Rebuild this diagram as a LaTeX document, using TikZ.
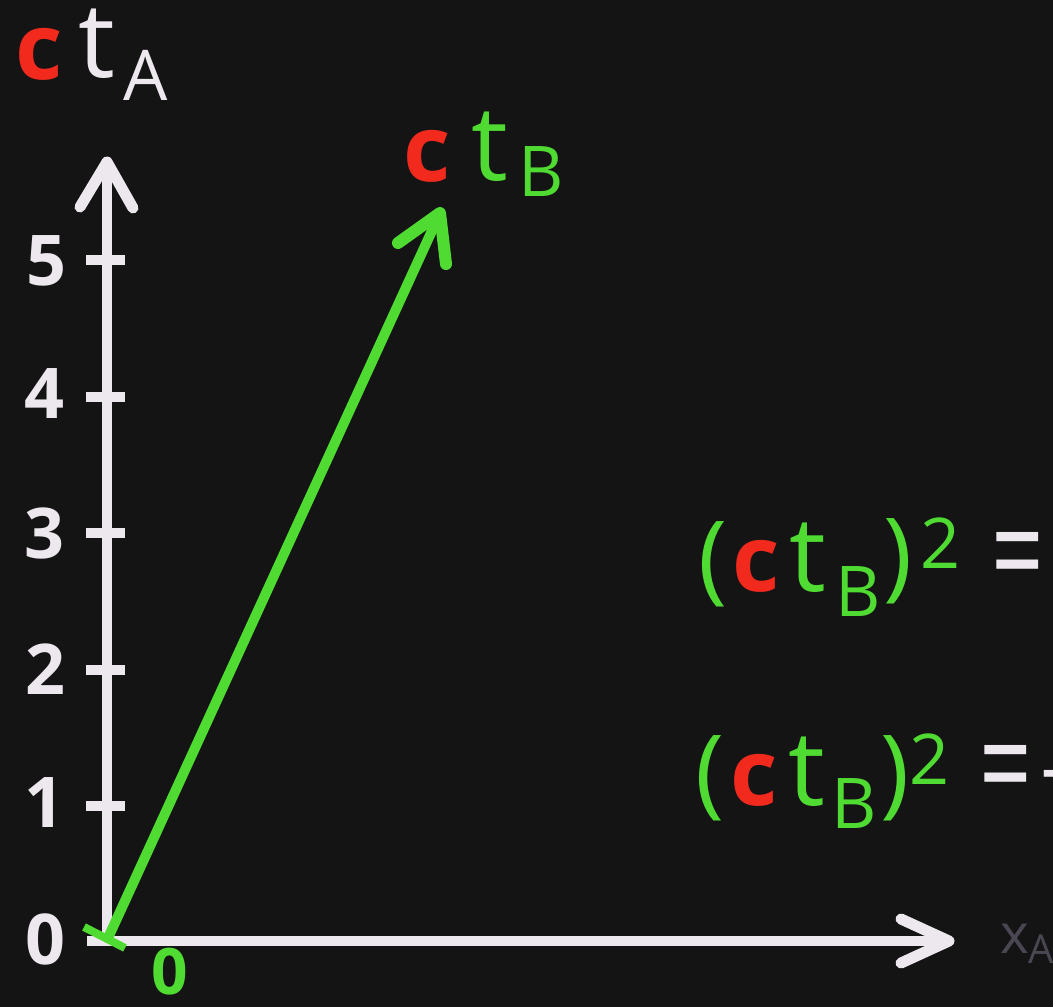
\documentclass[tikz,border=0pt]{standalone}
\usepackage{fontspec}
\setmainfont{Open Sans}
\usepackage{graphicx}
\definecolor{bg}{HTML}{141414}
\definecolor{chalk}{HTML}{EDE7EE}
\definecolor{cgreen}{HTML}{50DB33}
\definecolor{cred}{HTML}{F22A1E}
\definecolor{cgray}{HTML}{4A4652}
\tikzset{
  glyph/.style={inner sep=0pt, outer sep=0pt, anchor=center},
  bigc/.style={glyph, font=\bfseries\fontsize{92}{100}\selectfont},
  bigt/.style={glyph, font=\fontsize{104}{110}\selectfont},
  subl/.style={glyph, font=\fontsize{70}{72}\selectfont},
  paren/.style={glyph, font=\fontsize{98}{100}\selectfont, text=cgreen},
  sup/.style={glyph, font=\fontsize{70}{72}\selectfont, text=cgreen},
  eqs/.style={glyph, font=\fontsize{92}{96}\selectfont, text=chalk},
  num/.style={glyph, font=\bfseries\fontsize{70}{72}\selectfont, text=chalk},
  axisline/.style={draw=chalk, line width=10pt},
  axishead/.style={draw=chalk, line width=11pt, line cap=round, line join=round},
  vecline/.style={draw=cgreen, line width=10pt},
  vechead/.style={draw=cgreen, line width=12pt, line cap=round, line join=round},
}
\begin{document}
\begin{tikzpicture}[x=1pt,y=-1pt]
\fill[bg] (0,0) rectangle (1053,1007);
\useasboundingbox (0,0) rectangle (1053,1007);
\clip (0,0) rectangle (1053,1007);

% axes
\coordinate (O) at (107,941);
\coordinate (Oleft) at (87,941);
\coordinate (ytip) at (107,162);
\coordinate (yw1) at (80,207);
\coordinate (yw2) at (133,208);
\coordinate (xtip) at (949,941);
\coordinate (xw1) at (901,919);
\coordinate (xw2) at (901,963);
\draw[axisline] (O) -- (107,166);
\draw[axishead] (yw1) -- (ytip) -- (yw2);
\draw[axisline] (Oleft) -- (945,941);
\draw[axishead] (xw1) -- (xtip) -- (xw2);

% ticks
\foreach \yy in {260,396.5,533,669.5,806}{
  \draw[draw=chalk, line width=10pt] (86,\yy) -- (125,\yy);
}

% numbers
\node[num] (n5) at (46,261) {5};
\node[num] (n4) at (44,394) {4};
\node[num] (n3) at (44,533) {3};
\node[num] (n2) at (45,669) {2};
\node[num] (n1) at (44,803) {1};
\node[num] (n0) at (45,939) {0};

% green vector
\coordinate (vO) at (108,938);
\coordinate (vtip) at (440,213);
\coordinate (vw1) at (398,243);
\coordinate (vw2) at (446,264);
\coordinate (gt1) at (84,927);
\coordinate (gt2) at (125,948);
\draw[vecline] (vO) -- (436,222);
\draw[vechead] (vw1) -- (vtip) -- (vw2);
\draw[draw=cgreen, line width=8pt] (gt1) -- (gt2);
\node[glyph, font=\bfseries\fontsize{64}{66}\selectfont, text=cgreen] (g0) at (170,972) {0};

% ct_A
\node[bigc, text=cred] (cA) at (39,54) {c};
\node[bigt, text=chalk] (tA) at (97,44) {t};
\node[subl, text=chalk] (subA) at (146,75) {A};

% ct_B
\node[bigc, text=cred] (cB) at (427,156) {c};
\node[bigt, text=cgreen] (tB) at (490,147) {t};
\node[subl, text=cgreen] (subB) at (541,172) {B};

% equation 1
\node[paren] (e1l) at (713,564) {(};
\node[bigc, text=cred] (e1c) at (756,566) {c};
\node[bigt, text=cgreen] (e1t) at (808,558) {t};
\node[subl, text=cgreen] (e1B) at (858,592) {B};
\node[paren] (e1r) at (898,561) {)};
\node[sup] (e1s) at (941,543) {2};
\node[eqs] (e1eq) at (1018,566) {\scalebox{1}[1.5]{=}};

% equation 2
\node[paren] (e2l) at (710,778) {(};
\node[bigc, text=cred] (e2c) at (754,780) {c};
\node[bigt, text=cgreen] (e2t) at (807,772) {t};
\node[subl, text=cgreen] (e2B) at (854,804) {B};
\node[paren] (e2r) at (895,778) {)};
\node[sup] (e2s) at (930,759) {2};
\node[eqs] (e2eq) at (1006,779) {\scalebox{1}[1.5]{=}};
\node[eqs, anchor=west] (e2m) at (1040,784) {-};

% x_A label
\node[glyph, anchor=base west, text=cgray, font=\fontsize{55}{58}\selectfont] (xA) at (1000,953) {x\raisebox{-10pt}{\fontsize{40}{42}\selectfont A}};
\end{tikzpicture}
\end{document}
